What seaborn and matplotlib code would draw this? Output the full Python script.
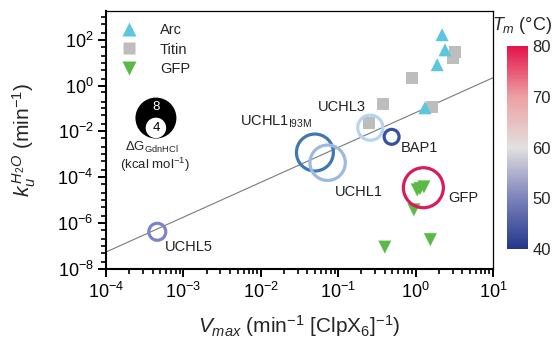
import numpy as np
import matplotlib
matplotlib.use("Agg")
import matplotlib.pyplot as plt
import seaborn as sns
from matplotlib.colors import LinearSegmentedColormap, Normalize
from matplotlib.lines import Line2D
from matplotlib.ticker import LogLocator, FixedLocator, NullFormatter, LogFormatterSciNotation

# ---- data ----
arc_vmax = [2.2, 2.4, 1.9, 1.32]
arc_ku = [165, 36, 8.1, 0.107]

titin_vmax = [3.2, 3.0, 0.89, 0.38, 1.62, 0.25]
titin_ku = [30, 16, 2.2, 0.16, 0.12, 0.024]

gfp_vmax = [1.05, 1.28, 1.14, 0.95, 0.40, 1.55]
gfp_ku = [2.8e-5, 3.8e-5, 3.2e-5, 3.8e-6, 9e-8, 1.9e-7]

ring_names = ["UCHL1$_{\\mathregular{I93M}}$", "UCHL1", "UCHL3", "BAP1", "GFP", "UCHL5"]
ring_vmax = [0.050, 0.073, 0.26, 0.49, 1.26, 4.6e-4]
ring_ku = [1.2e-3, 4.3e-4, 0.0145, 5.8e-3, 3.5e-5, 4.2e-7]
ring_dg = [7.8, 7.5, 5.5, 3.5, 8.4, 3.9]          # kcal/mol
ring_tm = [50, 56, 58, 43, 79, 51]                 # degrees C

# fit line in log-log space: log10(ku) = slope * log10(vmax) + intercept
fit_slope = 1.52
fit_intercept = -1.18

# ---- styles ----
ring_colors = ["#3f77b4", "#9db9e1", "#b3d5f0", "#3352a3", "#d81b5c", "#7b84c6"]
# label offsets (pixels) from ring centre, and alignment
ring_label_off = [(-3, 31, "right"), (7, -29, "left"), (-4, 21, "right"),
                  (9, -11, "left"), (25, -10, "left"), (8, -15, "left")]
tm_cmap = LinearSegmentedColormap.from_list(
    "tm", ["#22378c", "#7d83bb", "#e2e0df", "#eda0a2", "#e3134b"])

sns.set_theme(style="ticks")
plt.rcParams["font.family"] = ["Liberation Sans", "DejaVu Sans"]
plt.rcParams["mathtext.fontset"] = "custom"
plt.rcParams["mathtext.rm"] = "Liberation Sans"
plt.rcParams["mathtext.it"] = "Liberation Sans:italic"
plt.rcParams["mathtext.bf"] = "Liberation Sans:bold"
plt.rcParams["axes.unicode_minus"] = False

PX = 0.72  # points per pixel at dpi 100

fig = plt.figure(figsize=(5.56, 3.46), dpi=100)
ax = fig.add_axes([106 / 556, 77 / 346, 387 / 556, 258 / 346])
ax.set_xscale("log")
ax.set_yscale("log")
ax.set_xlim(1e-4, 1e1)
ax.set_ylim(1e-8, 10 ** 3.25)

# fit line
xfit = np.array(ax.get_xlim())
ax.plot(xfit, 10 ** (fit_slope * np.log10(xfit) + fit_intercept),
        color="#7a7a7a", lw=0.8, zorder=1)

# category points
sns.scatterplot(x=titin_vmax, y=titin_ku, marker="s", s=75, color="#bdbdbd",
                edgecolor="none", ax=ax, zorder=2)
sns.scatterplot(x=arc_vmax, y=arc_ku, marker="^", s=88, color="#5bc6dd",
                edgecolor="none", ax=ax, zorder=3)
sns.scatterplot(x=gfp_vmax, y=gfp_ku, marker="v", s=88, color="#5ab947",
                edgecolor="none", ax=ax, zorder=3)

# rings: size ~ dG, colour ~ Tm
for name, xv, yv, dg, col, (dx, dy, ha) in zip(ring_names, ring_vmax, ring_ku,
                                                ring_dg, ring_colors, ring_label_off):
    diam = 2 * (2.56 * dg - 1.5) * PX
    ax.scatter([xv], [yv], s=diam ** 2, facecolors="none", edgecolors=col,
               linewidths=2.3, zorder=4)
    ax.annotate(name, (xv, yv), xytext=(dx * PX, dy * PX), textcoords="offset points",
                ha=ha, va="center", fontsize=10.5, color="#222222")

# size key
for dg, col in [(8, "black"), (4, "white")]:
    ax.scatter([0.129], [0.585 if dg == 8 else 0.547], s=(2 * 2.56 * dg * PX) ** 2,
               color=col, edgecolors="none", transform=ax.transAxes, zorder=5)
ax.text(0.129, 0.627, "8", color="white", fontsize=9.5, ha="center", va="center",
        transform=ax.transAxes, zorder=6)
ax.text(0.129, 0.547, "4", color="black", fontsize=9.5, ha="center", va="center",
        transform=ax.transAxes, zorder=6)
ax.text(0.119, 0.473, "$\\Delta$G$_{\\mathregular{GdnHCl}}$", fontsize=9.5,
        ha="center", va="center", transform=ax.transAxes)
ax.text(0.127, 0.403, "(kcal mol$^{-1}$)", fontsize=9.5, ha="center", va="center",
        transform=ax.transAxes)

# legend
handles = [Line2D([], [], ls="none", marker="^", ms=9.4, color="#5bc6dd", mec="none"),
           Line2D([], [], ls="none", marker="s", ms=8.6, color="#bdbdbd", mec="none"),
           Line2D([], [], ls="none", marker="v", ms=9.4, color="#5ab947", mec="none")]
ax.legend(handles, ["Arc", "Titin", "GFP"], loc="upper left", bbox_to_anchor=(0, 1),
          frameon=False, fontsize=10.5, borderpad=0.8, borderaxespad=0,
          handlelength=1.6, handletextpad=1.3, labelspacing=0.4)

# ticks
ax.yaxis.set_major_locator(FixedLocator([1e-8, 1e-6, 1e-4, 1e-2, 1e0, 1e2]))
ax.yaxis.set_major_formatter(LogFormatterSciNotation())
ax.yaxis.set_minor_locator(LogLocator(base=10, subs=(1.0, 2.0, 5.0), numticks=30))
ax.yaxis.set_minor_formatter(NullFormatter())
ax.xaxis.set_major_locator(LogLocator(base=10, numticks=10))
ax.xaxis.set_minor_locator(LogLocator(base=10, subs=np.arange(2, 10), numticks=30))
ax.xaxis.set_minor_formatter(NullFormatter())
ax.tick_params(which="major", direction="out", length=6, width=1.4, labelsize=13,
               color="black", labelcolor="black", pad=3)
ax.tick_params(which="minor", direction="out", length=3.5, width=1.2, color="black")
ax.tick_params(top=False, right=False, which="both")

for side in ["left", "bottom"]:
    ax.spines[side].set_linewidth(1.5)
for side in ["top", "right"]:
    ax.spines[side].set_linewidth(0.9)
for s in ax.spines.values():
    s.set_color("black")
ax.grid(False)

ax.set_ylabel("$k_u^{\\,H_2O}$ (min$^{-1}$)", fontsize=15)
ax.yaxis.set_label_coords(-0.175, 0.5)
ax.set_xlabel("$V_{max}$ (min$^{-1}$ [ClpX$_6$]$^{-1}$)", fontsize=15)
ax.xaxis.set_label_coords(0.5, -0.17)

# colorbar for Tm
cax = fig.add_axes([507 / 556, 97 / 346, 21 / 556, 203 / 346])
sm = plt.cm.ScalarMappable(norm=Normalize(40, 80), cmap=tm_cmap)
cb = fig.colorbar(sm, cax=cax, ticks=[40, 50, 60, 70, 80])
cb.outline.set_visible(False)
cax.tick_params(length=0, labelsize=12, pad=3)
fig.text(522 / 556, 1 - 25 / 346, "$T_m$ (°C)", fontsize=13, ha="center", va="center")

fig.savefig("out.png", dpi=100)
